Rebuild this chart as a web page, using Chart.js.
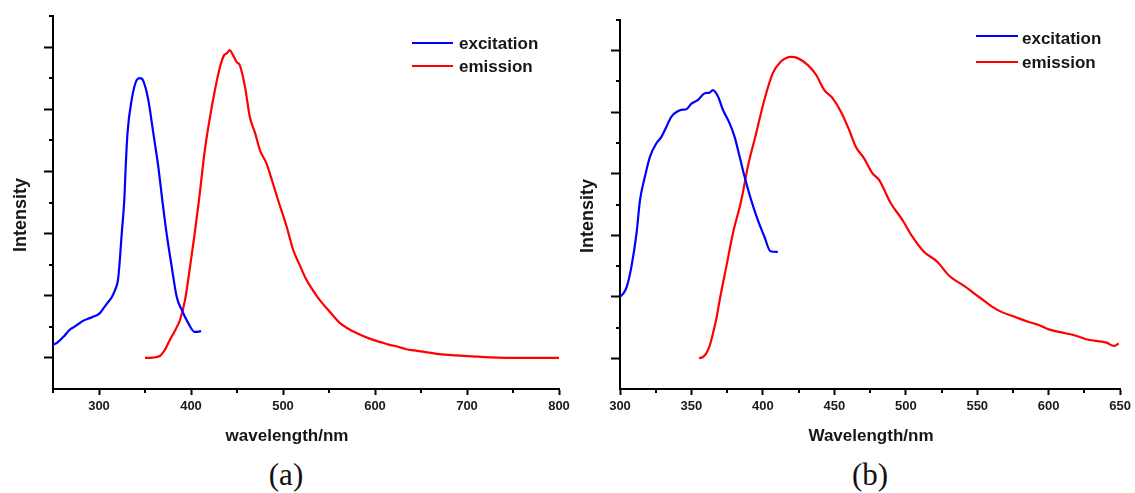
<!DOCTYPE html>
<html>
<head>
<meta charset="utf-8">
<script src="https://cdn.jsdelivr.net/npm/chart.js@4.4.1/dist/chart.umd.min.js"></script>
<style>
html,body{margin:0;padding:0;background:#fff;width:1135px;height:493px;overflow:hidden;}
body{position:relative;font-family:"Liberation Sans",Arial,sans-serif;}
canvas{position:absolute;top:0;}
.t{position:absolute;white-space:nowrap;font-weight:bold;color:#161616;}
.sw{position:absolute;height:2px;}
</style>
</head>
<body>
<canvas id="chartA" width="580" height="430" style="left:0px"></canvas>
<canvas id="chartB" width="568" height="430" style="left:567px"></canvas>

<div class="t" style="left:20px;top:215px;font-size:18px;line-height:18px;transform:translate(-50%,-50%) rotate(-90deg);">Intensity</div>
<div class="t" style="left:587px;top:216px;font-size:18px;line-height:18px;transform:translate(-50%,-50%) rotate(-90deg);">Intensity</div>

<div class="t" style="left:287px;top:427px;font-size:17px;line-height:17px;transform:translateX(-50%);">wavelength/nm</div>
<div class="t" style="left:871px;top:427px;font-size:17px;line-height:17px;transform:translateX(-50%);">Wavelength/nm</div>

<div class="t" style="left:286px;top:459px;font-size:31px;line-height:31px;font-weight:normal;font-family:'Liberation Serif','Times New Roman',serif;color:#111;transform:translateX(-50%);">(a)</div>
<div class="t" style="left:870px;top:459px;font-size:31px;line-height:31px;font-weight:normal;font-family:'Liberation Serif','Times New Roman',serif;color:#111;transform:translateX(-50%);">(b)</div>

<div class="sw" style="left:412px;top:42px;width:41px;background:#0000ff;"></div>
<div class="t" style="left:459px;top:35px;font-size:17px;line-height:17px;">excitation</div>
<div class="sw" style="left:412px;top:65px;width:41px;background:#ff0000;"></div>
<div class="t" style="left:459px;top:58px;font-size:17px;line-height:17px;">emission</div>

<div class="sw" style="left:976px;top:35px;width:42px;background:#0000ff;"></div>
<div class="t" style="left:1022px;top:30px;font-size:17px;line-height:17px;">excitation</div>
<div class="sw" style="left:976px;top:61px;width:42px;background:#ff0000;"></div>
<div class="t" style="left:1022px;top:54px;font-size:17px;line-height:17px;">emission</div>

<script>
// ---------- Panel (a) data ----------
const exA_nm  = [250,255,262,268,273,278,283,290,295,301,305,309,314,317.4,320.6,322.5,324.7,327.5,329,331,335.5,341,344.6,348,353.6,359,364.5,368.8,373.5,379,384.5,390,397,404,407,411];
const exA_val = [0.21,0.25,0.35,0.45,0.50,0.55,0.60,0.64,0.67,0.72,0.80,0.88,0.98,1.09,1.25,1.55,2.00,2.54,3.07,3.62,4.15,4.47,4.50,4.46,4.15,3.62,3.07,2.54,2.00,1.47,0.98,0.77,0.56,0.42,0.42,0.43];
const emA_nm  = [350,358,366,372,377,383,388,393.5,399,404,408.7,415,420.6,426,431.5,436,439,442,445.7,449.6,453,458.7,464,469.6,475,482,489,494.6,504,511,518,525,532,540,551,562,571,580,589,598,607,616,625,634,643,652,661,670,688,706,725,761,800];
const emA_val = [0,0.005,0.03,0.14,0.29,0.45,0.61,0.93,1.47,2.00,2.54,3.34,3.87,4.31,4.68,4.87,4.90,4.95,4.87,4.76,4.71,4.36,3.87,3.62,3.34,3.13,2.81,2.54,2.11,1.74,1.50,1.27,1.10,0.93,0.74,0.56,0.47,0.40,0.34,0.29,0.25,0.21,0.18,0.14,0.12,0.10,0.08,0.06,0.04,0.025,0.01,0,0];
const xMajorA = [300,400,500,600,700,800];
const xMinorA = [250,350,450,550,650,750];

// ---------- Panel (b) data ----------
const exB_nm  = [300,302.5,304.7,308,311.6,314,317.4,321,325.6,329,332.6,336,340.7,343,346.5,350,354.6,359.3,362.8,365,368.5,372,376.7,380.2,383.7,387.2,391.8,396.4,401,405.3,410.4];
const exB_val = [1.00,1.06,1.16,1.49,2.04,2.57,2.95,3.28,3.50,3.60,3.77,3.93,4.02,4.04,4.05,4.14,4.20,4.31,4.32,4.36,4.26,4.04,3.82,3.60,3.28,2.95,2.57,2.25,1.98,1.74,1.73];
const emB_nm  = [355.3,358,360.4,363,365,367.5,369.7,374.4,379,384.9,389.5,395.3,401,407,412.8,416,419.7,424.3,431.3,437.2,443,448.7,454.6,460.4,465,470.8,476.6,481.3,489.5,497.6,504.5,512.7,522,530,541.8,551,560.3,567.3,576.6,586,593,600,609,618.5,627.8,637,641,644,646,649];
const emB_val = [0,0.02,0.08,0.22,0.40,0.65,0.94,1.49,2.03,2.57,3.12,3.66,4.20,4.64,4.83,4.88,4.90,4.88,4.77,4.61,4.36,4.23,4.01,3.71,3.44,3.25,3.01,2.90,2.52,2.25,1.98,1.73,1.57,1.35,1.16,1.00,0.84,0.75,0.67,0.59,0.54,0.47,0.42,0.37,0.30,0.27,0.25,0.21,0.20,0.24];
const xMajorB = [300,350,400,450,500,550,600,650];
const xMinorB = [325,375,425,475,525,575,625];

// ---------- shared y ticks (no labels) ----------
const yMajor = [0,1,2,3,4,5];
const yMinor = [0.5,1.5,2.5,3.5,4.5,5.5];

const FONT = "'Liberation Sans', Arial, sans-serif";

const minorTicks = {
  id: 'minorTicks',
  afterDraw(chart, args, opts) {
    const ctx = chart.ctx, xs = chart.scales.x, ys = chart.scales.y;
    ctx.save();
    ctx.strokeStyle = '#000';
    ctx.lineWidth = 2;
    opts.xs.forEach(v => {
      const px = Math.round(xs.getPixelForValue(v));
      ctx.beginPath(); ctx.moveTo(px, ys.bottom); ctx.lineTo(px, ys.bottom + opts.xLen); ctx.stroke();
    });
    opts.ys.forEach(v => {
      const py = Math.round(ys.getPixelForValue(v));
      ctx.beginPath(); ctx.moveTo(xs.left, py); ctx.lineTo(xs.left - opts.yLen, py); ctx.stroke();
    });
    ctx.restore();
  }
};

function pts(nm, val) { return nm.map((x, i) => ({x: x, y: val[i]})); }

function makeChart(id, cfg) {
  return new Chart(document.getElementById(id), {
    type: 'line',
    data: {
      datasets: [
        {label: 'excitation', data: pts(cfg.exNm, cfg.exVal), borderColor: '#0000ff', borderWidth: 2.2, pointRadius: 0, cubicInterpolationMode: 'monotone', fill: false},
        {label: 'emission', data: pts(cfg.emNm, cfg.emVal), borderColor: '#ff0000', borderWidth: 2.2, pointRadius: 0, cubicInterpolationMode: 'monotone', fill: false}
      ]
    },
    options: {
      responsive: false,
      animation: false,
      layout: {padding: {left: 41, right: cfg.padRight, top: cfg.padTop, bottom: 11}},
      plugins: {
        legend: {display: false},
        tooltip: {enabled: false},
        minorTicks: {xs: cfg.xMinor, ys: yMinor, xLen: 4, yLen: 4}
      },
      scales: {
        x: {
          type: 'linear', min: cfg.xMin, max: cfg.xMax,
          afterBuildTicks: s => { s.ticks = cfg.xMajor.map(v => ({value: v})); },
          afterFit: s => { s.height = 30; },
          ticks: {font: {family: FONT, size: 13, weight: 'bold'}, color: '#1a1a1a', padding: 4, maxRotation: 0, autoSkip: false},
          grid: {drawOnChartArea: false, drawTicks: true, tickLength: 6, tickWidth: 2, tickColor: '#000'},
          border: {display: true, color: '#000', width: 2}
        },
        y: {
          type: 'linear', min: -0.5, max: 5.5,
          afterBuildTicks: s => { s.ticks = yMajor.map(v => ({value: v})); },
          afterFit: s => { s.width = 12; },
          ticks: {display: false},
          grid: {drawOnChartArea: false, drawTicks: true, tickLength: 9, tickWidth: 2, tickColor: '#000'},
          border: {display: true, color: '#000', width: 2}
        }
      }
    },
    plugins: [minorTicks]
  });
}

makeChart('chartA', {exNm: exA_nm, exVal: exA_val, emNm: emA_nm, emVal: emA_val, xMin: 250, xMax: 800, xMajor: xMajorA, xMinor: xMinorA, padRight: 21, padTop: 16});
makeChart('chartB', {exNm: exB_nm, exVal: exB_val, emNm: emB_nm, emVal: emB_val, xMin: 300, xMax: 650, xMajor: xMajorB, xMinor: xMinorB, padRight: 13, padTop: 20});
</script>
</body>
</html>
